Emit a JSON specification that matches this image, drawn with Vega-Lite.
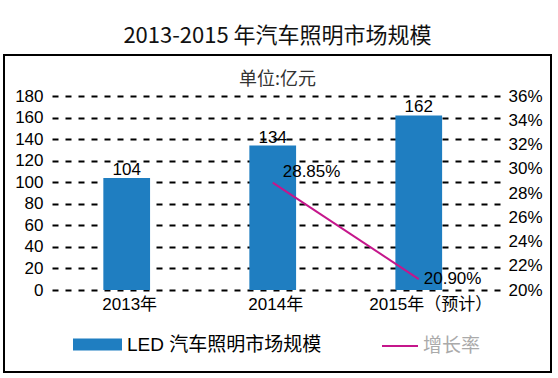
{
  "$schema": "https://vega.github.io/schema/vega-lite/v6.json",
  "width": 547,
  "height": 317,
  "autosize": {"type": "none"},
  "padding": {"left": 4, "top": 55, "right": 7, "bottom": 6},
  "background": "white",
  "title": {
    "text": "2013-2015 年汽车照明市场规模",
    "subtitle": "单位:亿元",
    "font": "Noto Sans CJK SC",
    "subtitleFont": "Noto Sans CJK SC",
    "fontSize": 22,
    "subtitleFontSize": 18,
    "fontWeight": "normal",
    "color": "#111111",
    "subtitleColor": "#333333",
    "anchor": "middle",
    "offset": -35,
    "subtitlePadding": 23
  },
  "config": {
    "view": {"stroke": "black", "strokeWidth": 2},
    "text": {"font": "Liberation Sans, Arial, sans-serif", "fontSize": 17, "color": "black"}
  },
  "data": {
    "values": [
      {"year": "2013年", "value": 104, "growth": null},
      {"year": "2014年", "value": 134, "growth": 0.2885},
      {"year": "2015年（预计）", "value": 162, "growth": 0.209}
    ]
  },
  "encoding": {
    "x": {
      "field": "year", "type": "nominal", "sort": null,
      "scale": {"range": [48, 496], "paddingInner": 0.68, "paddingOuter": 0.374, "align": 0.47},
      "axis": {
        "title": null, "labelAngle": 0, "domain": false, "ticks": false,
        "offset": -76, "labelPadding": 0, "labelFontSize": 17,
        "labelOffset": {"condition": {"test": "indexof(datum.value, '预计') >= 0", "value": 12}, "value": 3},
        "labelFont": "Liberation Sans, Noto Sans CJK SC, sans-serif",
        "labelColor": "black", "grid": false
      }
    }
  },
  "layer": [
    {
      "encoding": {
        "y": {
          "field": "value", "type": "quantitative",
          "scale": {"domain": [0, 180], "range": [235, 41], "nice": false},
          "axis": {
            "title": null, "values": [0, 20, 40, 60, 80, 100, 120, 140, 160, 180],
            "domain": false, "ticks": false, "offset": -41, "labelPadding": 2,
            "grid": true, "gridColor": "black", "gridDash": [6, 7], "gridWidth": 2,
            "labelFontSize": 17, "labelFont": "Liberation Sans, Arial, sans-serif",
            "labelColor": "black"
          }
        }
      },
      "layer": [
        {
          "mark": {"type": "bar"},
          "encoding": {
            "fill": {
              "datum": "LED 汽车照明市场规模",
              "scale": {"range": ["#1F7EC1"]},
              "legend": {
                "orient": "none", "legendX": 69, "legendY": 265, "title": null, "padding": 0,
                "symbolType": "M-1,-0.245H1V0.245H-1Z", "symbolSize": 2401, "symbolStrokeWidth": 0,
                "symbolOpacity": 1, "labelOffset": 5, "labelFontSize": 19, "labelLimit": 400,
                "labelFont": "Liberation Sans, Noto Sans CJK SC, sans-serif", "labelColor": "black"
              }
            }
          }
        },
        {
          "mark": {"type": "text", "baseline": "alphabetic", "dy": -3},
          "encoding": {
            "text": {"field": "value", "type": "quantitative"}
          }
        }
      ]
    },
    {
      "transform": [{"filter": "datum.growth != null"}],
      "encoding": {
        "y": {
          "field": "growth", "type": "quantitative",
          "scale": {"domain": [0.2, 0.36], "range": [235, 41], "nice": false, "zero": false},
          "axis": {
            "orient": "right", "title": null, "format": ".0%",
            "values": [0.2, 0.22, 0.24, 0.26, 0.28, 0.3, 0.32, 0.34, 0.36],
            "domain": false, "ticks": false, "offset": -45, "labelPadding": 2, "grid": false,
            "labelFontSize": 17, "labelFont": "Liberation Sans, Arial, sans-serif",
            "labelColor": "black"
          }
        }
      },
      "layer": [
        {
          "mark": {"type": "line", "strokeWidth": 2},
          "encoding": {
            "stroke": {
              "datum": "增长率",
              "scale": {"range": ["#C5168B"]},
              "legend": {
                "orient": "none", "legendX": 377, "legendY": 272, "title": null, "padding": 0,
                "symbolType": "stroke", "symbolSize": 1296, "symbolStrokeWidth": 2,
                "labelOffset": 4, "labelFontSize": 19, "labelLimit": 400,
                "labelFont": "Noto Sans CJK SC, sans-serif", "labelColor": "#aaaaaa"
              }
            }
          }
        },
        {
          "transform": [{"filter": "datum.year == '2014年'"}],
          "mark": {"type": "text", "align": "left", "baseline": "middle", "dx": 10, "dy": -11},
          "encoding": {
            "text": {"field": "growth", "type": "quantitative", "format": ".2%"}
          }
        },
        {
          "transform": [{"filter": "datum.year != '2014年'"}],
          "mark": {"type": "text", "align": "left", "baseline": "middle", "dx": 5, "dy": 0},
          "encoding": {
            "text": {"field": "growth", "type": "quantitative", "format": ".2%"}
          }
        }
      ]
    }
  ],
  "resolve": {"scale": {"y": "independent"}, "axis": {"y": "independent"}}
}
